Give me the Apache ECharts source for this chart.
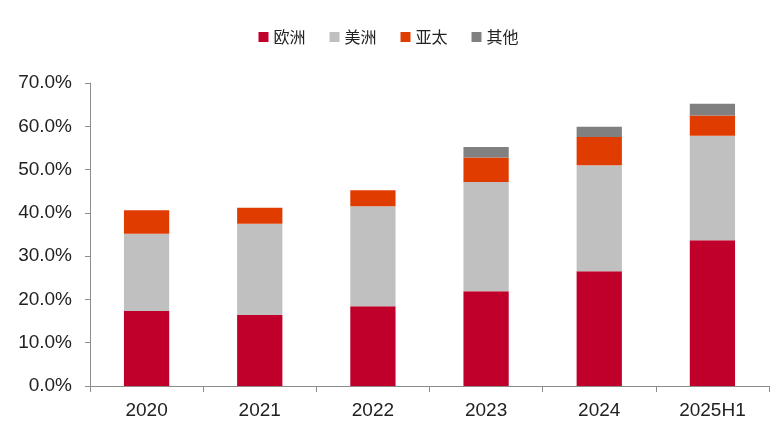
<!DOCTYPE html>
<html>
<head>
<meta charset="utf-8">
<style>
  html, body { margin: 0; padding: 0; background: #fff; }
  #chart { width: 777px; height: 426px; }
</style>
<script src="https://cdn.jsdelivr.net/npm/echarts@6/dist/echarts.min.js"></script>
</head>
<body>
<div id="chart"></div>
<script>
// 年份
const categories = ["2020", "2021", "2022", "2023", "2024", "2025H1"];
// 各地区占比 (%)
const europe = [17.3, 16.4, 18.4, 21.9, 26.5, 33.7];
const americas = [17.9, 21.1, 23.1, 25.2, 24.5, 24.1];
const apac = [5.4, 3.7, 3.7, 5.7, 6.5, 4.7];
const others = [0, 0, 0, 2.4, 2.4, 2.7];

const chart = echarts.init(document.getElementById("chart"));

function bar(name, data, color) {
    return {
        name: name,
        type: "bar",
        stack: "total",
        barWidth: "40%",
        data: data,
        itemStyle: { color: color },
    };
}

const option = {
    backgroundColor: "#ffffff",
    animation: false,
    textStyle: { fontFamily: "Liberation Sans, Arial, sans-serif" },
    legend: {
        top: 24,
        left: "center",
        itemWidth: 10,
        itemHeight: 10,
        itemGap: 24,
        icon: "rect",
        textStyle: {
            fontFamily: "Noto Sans CJK SC",
            fontSize: 16,
            color: "#222",
        },
    },
    grid: { left: 90, right: 8, top: 83, bottom: 40, containLabel: false },
    xAxis: {
        type: "category",
        data: categories,
        axisLine: { lineStyle: { color: "#8c8c8c" } },
        axisTick: { show: true, length: 6, lineStyle: { color: "#8c8c8c" } },
        axisLabel: { fontSize: 19, color: "#222", margin: 15 },
    },
    yAxis: {
        type: "value",
        min: 0,
        max: 70,
        interval: 10,
        splitLine: { show: false },
        axisLine: { show: true, lineStyle: { color: "#8c8c8c" } },
        axisTick: { show: true, length: 5, lineStyle: { color: "#8c8c8c" } },
        axisLabel: {
            fontSize: 19,
            color: "#222",
            margin: 18,
            formatter: (v) => v.toFixed(1) + "%",
        },
    },
    series: [
        bar("欧洲", europe, "#c0002a"),
        bar("美洲", americas, "#c0c0c0"),
        bar("亚太", apac, "#e03c00"),
        bar("其他", others, "#808080"),
    ],
};

chart.setOption(option);
</script>
</body>
</html>
